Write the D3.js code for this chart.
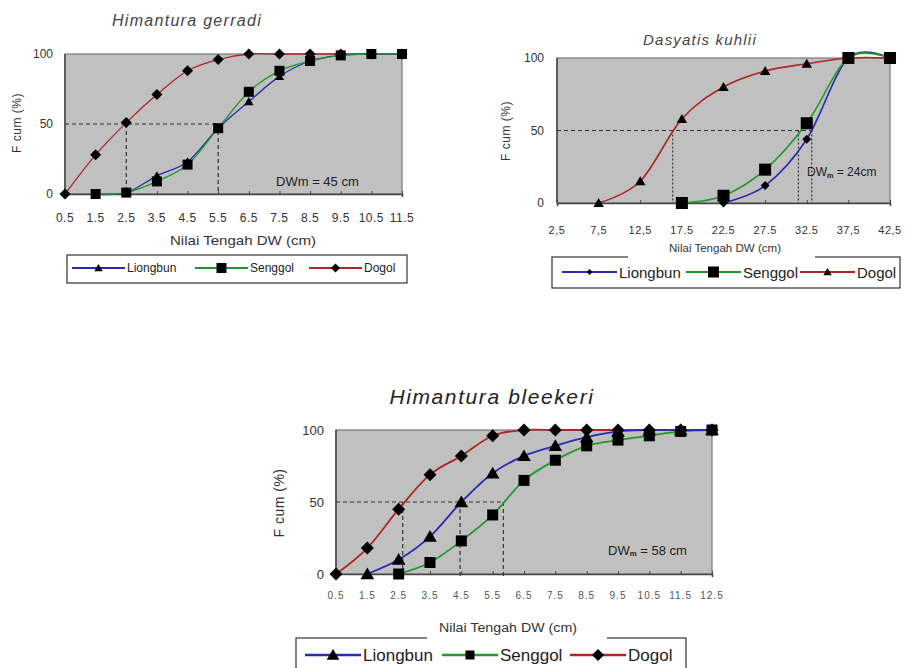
<!DOCTYPE html>
<html>
<head>
<meta charset="UTF-8">
<script src="https://d3js.org/d3.v7.min.js"></script>
<style>
  body { margin:0; background:#fff; }
  text { font-family: Arial, "Liberation Sans", sans-serif; }
</style>
</head>
<body>
<svg></svg>
<script>
// ---- data: Himantura gerradi ----
var g1Mid = [0.5,1.5,2.5,3.5,4.5,5.5,6.5,7.5,8.5,9.5,10.5,11.5];
var g1Labels = ["0.5","1.5","2.5","3.5","4.5","5.5","6.5","7.5","8.5","9.5","10.5","11.5"];
var g1Liongbun = [null,0,1,13,23,47,66,84,95,99,100,100];
var g1Senggol  = [null,0,1,9,21,47,73,88,95,99,100,100];
var g1Dogol    = [0,28,51,71,88,96,100,100,100,100,100,100];
var g1Guide = [2.5, 5.5];

// ---- data: Dasyatis kuhlii ----
var g2Mid = [2.5,7.5,12.5,17.5,22.5,27.5,32.5,37.5,42.5];
var g2Labels = ["2,5","7,5","12,5","17.5","22.5","27.5","32.5","37,5","42,5"];
var g2Liongbun = [null,null,null,null,0,12,44,100,100];
var g2Senggol  = [null,null,null,0,5,23,55,100,100];
var g2Dogol    = [null,0,15,58,80,91,96,100,100];
var g2Guide = [16.4, 31.5, 33.1];

// ---- data: Himantura bleekeri ----
var g3Mid = [0.5,1.5,2.5,3.5,4.5,5.5,6.5,7.5,8.5,9.5,10.5,11.5,12.5];
var g3Labels = ["0.5","1.5","2.5","3.5","4.5","5.5","6.5","7.5","8.5","9.5","10.5","11.5","12.5"];
var g3Liongbun = [null,0,10,26,50,70,82,89,95,99,100,100,100];
var g3Senggol  = [null,null,0,8,23,41,65,79,89,93,96,99,100];
var g3Dogol    = [0,18,45,69,82,96,100,100,100,100,100,100,100];
var g3Guide = [2.63, 4.46, 5.84];

var yTicks = [0,50,100];
var colors = {Liongbun:"#2a2ab4", Senggol:"#1f9a2a", Dogol:"#b02525"};

var width = 907, height = 668;
var svg = d3.select("svg").attr("width", width).attr("height", height);

function markerPath(type, s){
  var h = s/2;
  if(type=="square") return "M"+(-h)+","+(-h)+"h"+s+"v"+s+"h"+(-s)+"Z";
  if(type=="diamond") return "M0,"+(-h)+"L"+h+",0L0,"+h+"L"+(-h)+",0Z";
  return "M0,"+(-h)+"L"+(h*1.05)+","+(h*0.8)+"L"+(-h*1.05)+","+(h*0.8)+"Z";
}

function drawChart(c){
  var g = svg.append("g");
  var x = d3.scaleLinear().domain([c.mid[0], c.mid[c.mid.length-1]]).range([c.x0, c.x1]);
  var y = d3.scaleLinear().domain([0,100]).range([c.y1, c.y0]);

  // title
  g.append("text").attr("x", c.title.x).attr("y", c.title.y)
    .attr("text-anchor","middle").attr("dominant-baseline","central")
    .style("font-style","italic").style("font-size", c.title.size+"px")
    .style("letter-spacing", c.title.ls+"px")
    .attr("fill", c.title.color).text(c.title.text);

  // plot area
  g.append("rect").attr("x", c.x0).attr("y", c.y0)
    .attr("width", c.x1-c.x0).attr("height", c.y1-c.y0)
    .attr("fill","#c0c0c0").attr("stroke","#7a7a7a").attr("stroke-width",1.2);

  // axes
  var xAxis = d3.axisBottom(x).tickValues(c.mid).tickSize(3).tickFormat("");
  g.append("g").attr("transform","translate(0,"+c.y1+")").call(xAxis)
    .call(a => a.select(".domain").attr("stroke","#444").attr("stroke-width",1.5))
    .call(a => a.selectAll(".tick line").attr("stroke","#444").attr("y1",-3).attr("y2",0));
  g.append("line").attr("x1",c.x0).attr("x2",c.x0).attr("y1",c.y0).attr("y2",c.y1)
    .attr("stroke","#444").attr("stroke-width",1.5);

  g.selectAll(".xl").data(c.mid).enter().append("text")
    .attr("x", d => x(d)).attr("y", c.xLab.y)
    .attr("text-anchor","middle").attr("dominant-baseline","central")
    .style("font-size", c.xLab.size+"px").style("letter-spacing", c.xLab.ls+"px")
    .attr("fill", c.xLab.color)
    .text((d,i) => c.labels[i]);

  g.selectAll(".yl").data(yTicks).enter().append("text")
    .attr("x", c.yLab.x).attr("y", d => y(d))
    .attr("text-anchor","end").attr("dominant-baseline","central")
    .style("font-size", c.yLab.size+"px").attr("fill","#333").text(d => d);

  g.append("text").attr("transform","translate("+c.yTitle.x+","+c.yTitle.y+") rotate(-90)")
    .attr("text-anchor","middle").attr("dominant-baseline","central")
    .style("font-size", c.yTitle.size+"px").style("letter-spacing","0.5px")
    .attr("fill","#333").text("F cum (%)");

  g.append("text").attr("x", c.xTitle.x).attr("y", c.xTitle.y)
    .attr("text-anchor","middle").attr("dominant-baseline","central")
    .style("font-size", c.xTitle.size+"px").attr("fill","#333")
    .attr("textLength", c.xTitle.len).attr("lengthAdjust","spacingAndGlyphs")
    .text("Nilai Tengah DW (cm)");

  // guide lines at 50%
  var gx = c.guide;
  g.append("line").attr("x1", c.x0).attr("x2", x(d3.max(gx))).attr("y1", y(50)).attr("y2", y(50))
    .attr("stroke","#333").attr("stroke-width",1.2).attr("stroke-dasharray","4,3");
  g.selectAll(".gv").data(gx).enter().append("line")
    .attr("x1", d => x(d)).attr("x2", d => x(d)).attr("y1", y(50)).attr("y2", c.y1 + c.guideDrop)
    .attr("stroke","#333").attr("stroke-width",1.2).attr("stroke-dasharray", c.vDash);

  // DWm note
  var note = g.append("text").attr("x", c.note.x).attr("y", c.note.y)
    .attr("dominant-baseline","central").style("font-size", c.note.size+"px").attr("fill","#222");
  note.append("tspan").text("DW");
  note.append("tspan").text("m").style("font-size", (c.note.sub ? c.note.size*0.6 : c.note.size)+"px")
    .attr("dy", c.note.sub ? 3 : 0).attr("font-weight", c.note.sub ? "bold" : null);
  note.append("tspan").attr("dy", c.note.sub ? -3 : 0).text(c.note.rest);

  // series
  var line = d3.line()
    .defined(d => d.v != null)
    .x(d => x(d.m)).y(d => y(d.v))
    .curve(d3.curveCardinal.tension(0));

  c.series.forEach(function(s){
    var pts = c.mid.map((m,i) => ({m:m, v:s.values[i]}));
    g.append("path").datum(pts).attr("d", line)
      .attr("fill","none").attr("stroke", colors[s.name]).attr("stroke-width", c.lineW);
  });
  c.series.forEach(function(s){
    var pts = c.mid.map((m,i) => ({m:m, v:s.values[i]})).filter(d => d.v != null);
    g.selectAll(null).data(pts).enter().append("path")
      .attr("transform", d => "translate("+x(d.m)+","+y(d.v)+")")
      .attr("d", markerPath(s.marker, s.size)).attr("fill","#000");
  });

  // legend
  var L = c.legend;
  g.append("rect").attr("x", L.x0).attr("y", L.y0).attr("width", L.x1-L.x0).attr("height", L.y1-L.y0)
    .attr("fill","#fff").attr("stroke","#333").attr("stroke-width",1.2);
  if(L.gap){
    g.append("rect").attr("x", L.gap[0]).attr("y", L.y0-2).attr("width", L.gap[1]-L.gap[0]).attr("height",4)
      .attr("fill","#fff");
  }
  L.items.forEach(function(it){
    var s = c.series.find(d => d.name == it.name);
    g.append("line").attr("x1", it.x).attr("x2", it.x+L.lineLen).attr("y1", L.y).attr("y2", L.y)
      .attr("stroke", colors[it.name]).attr("stroke-width", c.lineW+0.6);
    g.append("path").attr("transform","translate("+(it.x+L.lineLen/2)+","+L.y+")")
      .attr("d", markerPath(s.marker, it.msize)).attr("fill","#000");
    g.append("text").attr("x", it.x+L.lineLen+2).attr("y", L.y)
      .attr("dominant-baseline","central").style("font-size", L.size+"px").attr("fill","#222")
      .text(it.name);
  });
}

drawChart({
  mid: g1Mid, labels: g1Labels, guide: g1Guide,
  x0:65, x1:402, y0:54, y1:194, lineW:1.3, guideDrop:0, vDash:"4,3",
  title:{x:187, y:20, size:16, ls:1.3, color:"#444", text:"Himantura gerradi"},
  xLab:{y:218, size:12, ls:0.5, color:"#333"},
  yLab:{x:53, size:12},
  yTitle:{x:17, y:123, size:12},
  xTitle:{x:243, y:240, size:13, len:146},
  note:{x:276, y:181, size:13, sub:false, rest:"  = 45 cm"},
  series:[
    {name:"Dogol", values:g1Dogol, marker:"diamond", size:11},
    {name:"Liongbun", values:g1Liongbun, marker:"triangle", size:9},
    {name:"Senggol", values:g1Senggol, marker:"square", size:10}
  ],
  legend:{x0:67, x1:407, y0:255, y1:283, y:268, size:12, lineLen:53,
    items:[{name:"Liongbun", x:72, msize:8},{name:"Senggol", x:195, msize:10},{name:"Dogol", x:309, msize:9}]}
});

drawChart({
  mid: g2Mid, labels: g2Labels, guide: g2Guide,
  x0:557, x1:890, y0:58, y1:203, lineW:1.6, guideDrop:0, vDash:"2,2",
  title:{x:700, y:39, size:15, ls:1.2, color:"#444", text:"Dasyatis kuhlii"},
  xLab:{y:230, size:11, ls:0.5, color:"#333"},
  yLab:{x:544, size:12},
  yTitle:{x:506, y:131, size:12},
  xTitle:{x:725, y:248, size:11, len:112},
  note:{x:807, y:172, size:12, sub:true, rest:" = 24cm"},
  series:[
    {name:"Dogol", values:g2Dogol, marker:"triangle", size:10},
    {name:"Liongbun", values:g2Liongbun, marker:"diamond", size:9},
    {name:"Senggol", values:g2Senggol, marker:"square", size:12}
  ],
  legend:{x0:552, x1:900, y0:257, y1:288, y:272, size:15, lineLen:55, gap:[628,815],
    items:[{name:"Liongbun", x:562, msize:6},{name:"Senggol", x:686, msize:11},{name:"Dogol", x:800, msize:8}]}
});

drawChart({
  mid: g3Mid, labels: g3Labels, guide: g3Guide,
  x0:336, x1:712, y0:430, y1:574, lineW:1.8, guideDrop:5, vDash:"4,3",
  title:{x:492, y:396, size:21, ls:1.6, color:"#222", text:"Himantura bleekeri"},
  xLab:{y:595, size:10, ls:1, color:"#555"},
  yLab:{x:324, size:13},
  yTitle:{x:279, y:503, size:14},
  xTitle:{x:508, y:628, size:12, len:138},
  note:{x:608, y:550, size:13, sub:true, rest:" = 58 cm"},
  series:[
    {name:"Dogol", values:g3Dogol, marker:"diamond", size:13},
    {name:"Senggol", values:g3Senggol, marker:"square", size:11},
    {name:"Liongbun", values:g3Liongbun, marker:"triangle", size:13}
  ],
  legend:{x0:296, x1:686, y0:638, y1:680, y:655, size:17, lineLen:56, gap:[427,607],
    items:[{name:"Liongbun", x:305, msize:12},{name:"Senggol", x:442, msize:9},{name:"Dogol", x:570, msize:12}]}
});
</script>
</body>
</html>
